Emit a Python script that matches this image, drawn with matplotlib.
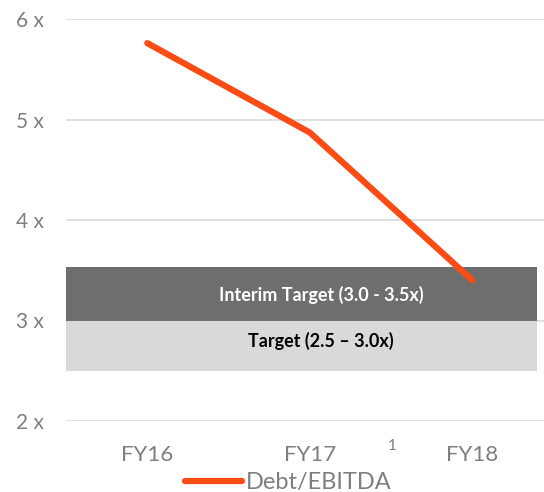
import matplotlib.pyplot as plt

plt.rcParams['font.family'] = ['Lato', 'DejaVu Sans']

# Leverage by fiscal year
years = ['FY16', 'FY17', 'FY18']
debt_ebitda = [5.76, 4.87, 3.40]

# Target ranges (low, high)
target = (2.5, 3.0)
interim_target = (3.0, 3.53)

yticks = [2, 3, 4, 5, 6]
ytick_labels = ['2 x', '3 x', '4 x', '5 x', '6 x']

fig = plt.figure(figsize=(5.44, 4.92), dpi=100)
ax = fig.add_axes([66 / 544, (492 - 421) / 492, 478 / 544, 402 / 492])

x = list(range(len(years)))

# target bands
ax.fill_between([-0.5, 2.4], target[0], target[1], color='#d9d9d9', zorder=2, linewidth=0)
ax.fill_between([-0.5, 2.4], interim_target[0], interim_target[1], color='#6e6e6e', zorder=2, linewidth=0)
ax.text(1.07, sum(interim_target) / 2 - 0.01, 'Interim Target (3.0 - 3.5x)', ha='center', va='center',
        color='white', fontsize=13, fontweight='bold', zorder=4)
ax.text(1.07, sum(target) / 2 + 0.05, 'Target (2.5 \u2013 3.0x)', ha='center', va='center',
        color='black', fontsize=13, fontweight='bold', zorder=4)

ax.plot(x, debt_ebitda, color='#fc4c16', linewidth=4.5, solid_capstyle='round',
        label='Debt/EBITDA', zorder=3, clip_on=False)

ax.set_xlim(-0.5, 2.44)
ax.set_ylim(2, 6)
ax.set_yticks(yticks)
ax.set_yticklabels(ytick_labels)
ax.set_xticks(x)
ax.set_xticklabels(years)
ax.tick_params(axis='y', length=0, labelsize=15, colors='#7f7f7f', pad=16)
ax.tick_params(axis='x', length=0, labelsize=16, colors='#7f7f7f', pad=17)
ax.grid(axis='y', color='#d9d9d9', linewidth=1.2, zorder=1)
ax.set_axisbelow(True)
for s in ax.spines.values():
    s.set_visible(False)

# footnote marker next to FY17
fig.text(392 / 544, 1 - 446 / 492, '1', ha='center', va='center', fontsize=11, color='#7f7f7f')

leg = fig.legend(loc='lower center', bbox_to_anchor=(0.53, -0.045), frameon=False, fontsize=17,
                 handlelength=2.4, handletextpad=0.15, labelcolor='#7f7f7f')

fig.savefig('out.png', dpi=100)
